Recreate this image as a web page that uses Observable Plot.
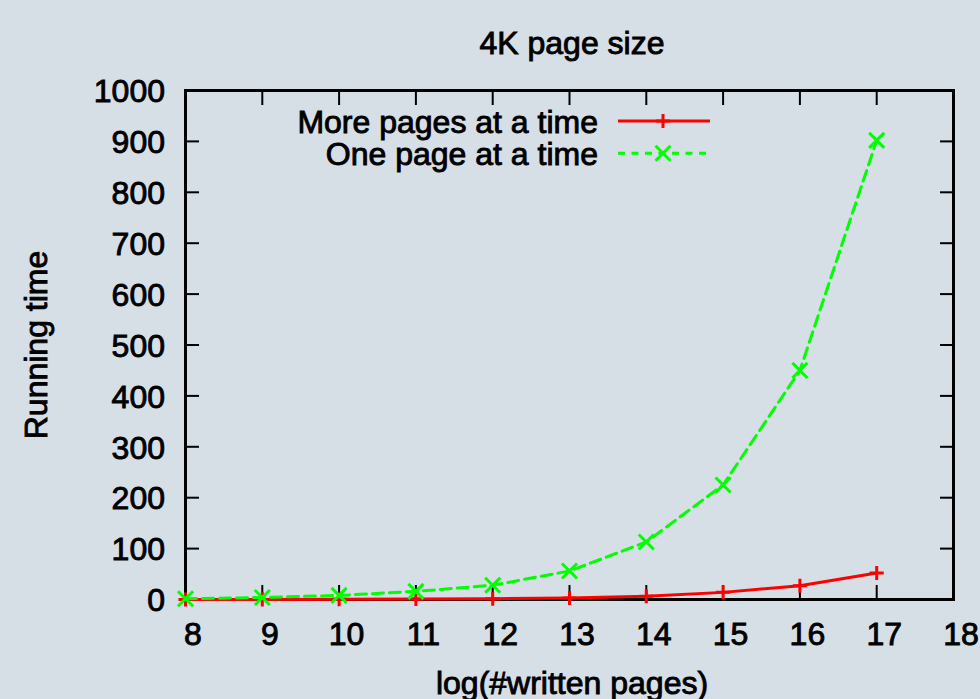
<!DOCTYPE html>
<html>
<head>
<meta charset="utf-8">
<script src="https://cdn.jsdelivr.net/npm/d3@7"></script>
<script src="https://cdn.jsdelivr.net/npm/@observablehq/plot@0.6"></script>
<style>
  html, body { margin: 0; padding: 0; background: #d6dee6; }
  #wrap { position: relative; width: 980px; height: 699px; overflow: hidden; }
  #wrap > svg { position: absolute; left: 0; top: 0; }
  #wrap svg text { stroke: black; stroke-width: 0.9px; paint-order: fill; }
</style>
</head>
<body>
<div id="wrap"></div>
<script>
// ---- data ----
const chartTitle = "4K page size";
const xLabel = "log(#written pages)";
const yLabel = "Running time";
const seriesNames = ["More pages at a time", "One page at a time"];
const logPages = [8, 9, 10, 11, 12, 13, 14, 15, 16, 17];
const morePagesTime = [0.1, 0.2, 0.4, 0.8, 1.5, 3, 6.5, 14, 27, 52];
const onePageTime = [1.5, 4, 8, 16, 28, 56, 113, 225, 450, 902];
const xTicks = [8, 9, 10, 11, 12, 13, 14, 15, 16, 17, 18];
const yTicks = [0, 100, 200, 300, 400, 500, 600, 700, 800, 900, 1000];

const more = logPages.map((x, i) => ({x, y: morePagesTime[i]}));
const one = logPages.map((x, i) => ({x, y: onePageTime[i]}));

const RED = "#ff0000", GREEN = "#00ff00", BG = "#d6dee6";
const FONT = "'Liberation Sans', Arial, Helvetica, sans-serif";
const FS = 32;

const chart = Plot.plot({
  width: 980,
  height: 699,
  marginLeft: 185,
  marginRight: 27,
  marginTop: 90,
  marginBottom: 100,
  style: {background: BG, fontFamily: FONT, color: "black", overflow: "visible"},
  x: {domain: [8, 18]},
  y: {domain: [0, 1000]},
  marks: [
    // inward ticks on all four sides
    Plot.axisX({ticks: xTicks, anchor: "bottom", tickSize: -14, strokeWidth: 2, fill: "none", label: null}),
    Plot.axisX({ticks: xTicks, anchor: "top", tickSize: -14, strokeWidth: 2, fill: "none", label: null}),
    Plot.axisY({ticks: yTicks, anchor: "left", tickSize: -14, strokeWidth: 2, fill: "none", label: null}),
    Plot.axisY({ticks: yTicks, anchor: "right", tickSize: -14, strokeWidth: 2, fill: "none", label: null}),
    // tick labels
    Plot.axisX({ticks: xTicks, anchor: "bottom", tickSize: 0, tickPadding: 23, dx: 7.5, fontSize: FS, label: null, tickFormat: d => String(d)}),
    Plot.axisY({ticks: yTicks, anchor: "left", tickSize: 0, tickPadding: 20.5, dy: 1.5, fontSize: FS, label: null, tickFormat: d => String(d)}),
    Plot.frame({stroke: "black", strokeWidth: 3}),
    // axis titles
    Plot.text([yLabel], {text: d => d, frameAnchor: "left", rotate: -90, dx: -148.5, fontSize: FS, lineAnchor: "middle", textAnchor: "middle", fill: "black"}),
    Plot.text([xLabel], {text: d => d, frameAnchor: "bottom", dx: 2.5, dy: 83.8, fontSize: FS, lineAnchor: "middle", textAnchor: "middle", fill: "black"}),
    // series
    Plot.line(more, {x: "x", y: "y", stroke: RED, strokeWidth: 3}),
    Plot.dot(more, {x: "x", y: "y", symbol: "plus", r: 4.6, stroke: RED, strokeWidth: 3}),
    Plot.line(one, {x: "x", y: "y", stroke: GREEN, strokeWidth: 3, strokeDasharray: "11,6"}),
    Plot.dot(one, {x: "x", y: "y", symbol: "times", r: 6.9, stroke: GREEN, strokeWidth: 3})
  ]
});

const wrap = document.getElementById("wrap");
wrap.appendChild(chart);

// overlay: title and legend
const ov = d3.select(wrap).append("svg")
  .attr("width", 980).attr("height", 699)
  .style("pointer-events", "none")
  .style("font-family", FONT);

ov.append("text")
  .attr("x", 572).attr("y", 54)
  .attr("text-anchor", "middle")
  .attr("font-size", FS)
  .attr("fill", "black")
  .text(chartTitle);

const legendRows = [
  {name: seriesNames[0], color: RED, dash: null, symbol: d3.symbolPlus, size: 66},
  {name: seriesNames[1], color: GREEN, dash: "7,6.5", symbol: d3.symbolTimes, size: 148}
];
legendRows.forEach((row, i) => {
  const cy = 121 + i * 32.3;
  ov.append("text")
    .attr("x", 598).attr("y", cy + 12)
    .attr("text-anchor", "end")
    .attr("font-size", FS)
    .attr("fill", "black")
    .text(row.name);
  ov.append("line")
    .attr("x1", 618).attr("x2", 710).attr("y1", cy).attr("y2", cy)
    .attr("stroke", row.color).attr("stroke-width", 3)
    .attr("stroke-dasharray", row.dash);
  ov.append("path")
    .attr("transform", `translate(663,${cy})`)
    .attr("d", d3.symbol(row.symbol, row.size)())
    .attr("fill", "none").attr("stroke", row.color).attr("stroke-width", 3);
});
</script>
</body>
</html>
